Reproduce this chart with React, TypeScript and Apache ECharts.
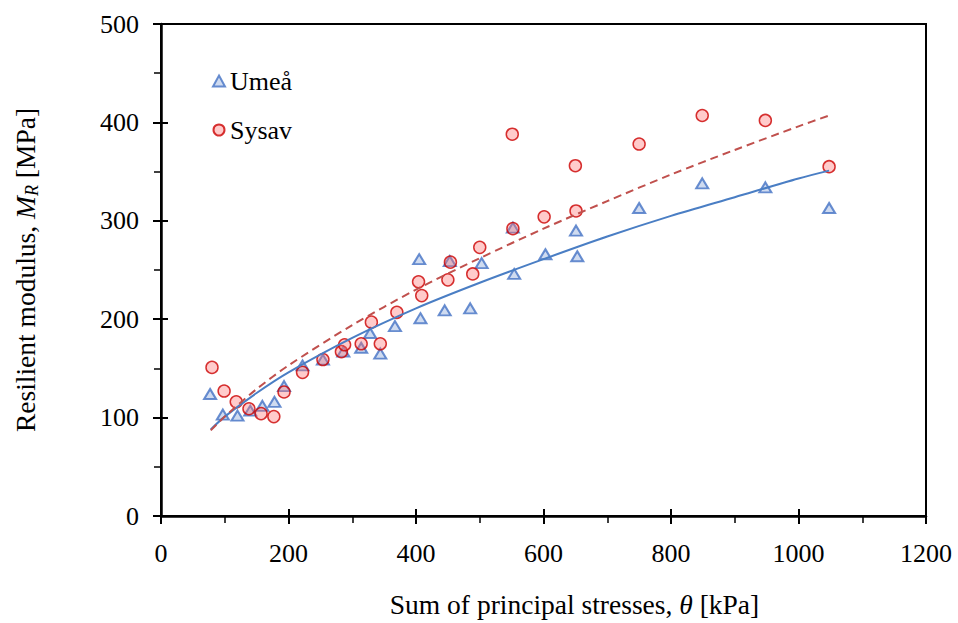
import React, { useEffect, useRef } from "react";
import * as echarts from "echarts";

const umeaTheta = [77, 97, 120, 140, 159, 178, 193, 222, 254, 286, 314, 328, 344, 367, 405, 407, 445, 453, 485, 503, 552, 554, 603, 651, 653, 750, 849, 948, 1048];
const umeaMR = [124, 103, 102, 107, 112, 116, 132, 153, 159, 167, 171, 186, 165, 193, 261, 201, 209, 259, 211, 257, 293, 246, 266, 290, 264, 313, 338, 334, 313];

const sysavTheta = [80, 99, 118, 138, 157, 177, 193, 222, 254, 283, 288, 314, 330, 344, 370, 404, 409, 450, 454, 489, 500, 551, 552, 601, 650, 651, 750, 849, 948, 1048];
const sysavMR = [151, 127, 116, 109, 104, 101, 126, 146, 159, 167, 174, 175, 197, 175, 207, 238, 224, 240, 258, 246, 273, 388, 292, 304, 356, 310, 378, 407, 402, 355];

const trendTheta = [78, 100, 150, 200, 300, 400, 500, 600, 700, 800, 900, 1000, 1048];
const umeaTrend = [88, 101, 125, 146, 181, 211, 237, 261, 284, 305, 324, 343, 351];
const sysavTrend = [87, 101, 129, 153, 194, 230, 262, 292, 320, 347, 372, 396, 407];

const seriesNames = ["Umeå", "Sysav"];

const FONT = "'Liberation Serif', 'Times New Roman', serif";
const TICK_FS = 26;
const TITLE_FS = 27.5;

function zip(xs: number[], ys: number[]) {
  return xs.map((x, i) => [x, ys[i]]);
}

export default function App() {
  const ref = useRef<HTMLDivElement>(null);
  useEffect(() => {
    if (!ref.current) return;
    const chart = echarts.init(ref.current, undefined, { renderer: "svg" });
    const xBase = { type: "value", min: 0, max: 1200, interval: 200, gridIndex: 0 };
    const yBase = { type: "value", min: 0, max: 500, interval: 100, gridIndex: 0 };
    chart.setOption({
      animation: false,
      backgroundColor: "#fff",
      grid: {
        left: 161,
        right: 32,
        top: 24,
        bottom: 107,
        show: true,
        borderColor: "#000",
        borderWidth: 2,
        containLabel: false,
        outerBoundsMode: "none",
      },
      legend: {
        data: [
          { name: seriesNames[0], icon: "triangle" },
          { name: seriesNames[1], icon: "circle" },
        ],
        orient: "vertical",
        left: 207,
        top: 63,
        itemWidth: 12,
        itemHeight: 11,
        itemGap: 23,
        textStyle: { fontFamily: FONT, fontSize: 26, color: "#000" },
      },
      xAxis: [
        {
          ...xBase,
          position: "bottom",
          name: "{a|Sum of principal stresses, }{i|θ}{a| [kPa]}",
          nameLocation: "middle",
          nameGap: 74,
          nameTextStyle: {
            color: "#000",
            padding: [0, 0, 0, 62],
            rich: {
              a: { fontFamily: FONT, fontSize: TITLE_FS, color: "#000" },
              i: { fontFamily: FONT, fontSize: TITLE_FS, fontStyle: "italic", color: "#000" },
            },
          },
          axisLine: { show: true, lineStyle: { color: "#000", width: 2.5 } },
          axisTick: { show: true, inside: false, length: 8, lineStyle: { color: "#000", width: 2 } },
          minorTick: { show: true, splitNumber: 2, length: 7, lineStyle: { color: "#000", width: 1.5 } },
          axisLabel: {
            fontFamily: FONT,
            fontSize: TICK_FS,
            color: "#000",
            margin: 24,
            formatter: (v: number) => String(v),
          },
          splitLine: { show: false },
        },
        {
          ...xBase,
          position: "bottom",
          axisLine: { show: false },
          axisTick: { show: true, inside: true, length: 7, lineStyle: { color: "#000", width: 2 } },
          axisLabel: { show: false },
          splitLine: { show: false },
        },
      ],
      yAxis: [
        {
          ...yBase,
          position: "left",
          name: "{a|Resilient modulus, }{i|M}{s|R}{a| [MPa]}",
          nameLocation: "middle",
          nameGap: 120,
          nameRotate: 90,
          nameTextStyle: {
            color: "#000",
            rich: {
              a: { fontFamily: FONT, fontSize: TITLE_FS, color: "#000", lineHeight: 32 },
              i: { fontFamily: FONT, fontSize: TITLE_FS, fontStyle: "italic", color: "#000", lineHeight: 32 },
              s: { fontFamily: FONT, fontSize: 18, fontStyle: "italic", color: "#000", lineHeight: 21, verticalAlign: "bottom" },
            },
          },
          axisLine: { show: true, lineStyle: { color: "#000", width: 2.5 } },
          axisTick: { show: true, inside: false, length: 8, lineStyle: { color: "#000", width: 2 } },
          minorTick: { show: true, splitNumber: 2, length: 7, lineStyle: { color: "#000", width: 1.5 } },
          axisLabel: { fontFamily: FONT, fontSize: TICK_FS, color: "#000", margin: 22 },
          splitLine: { show: false },
        },
        {
          ...yBase,
          position: "left",
          axisLine: { show: false },
          axisTick: { show: true, inside: true, length: 7, lineStyle: { color: "#000", width: 2 } },
          axisLabel: { show: false },
          splitLine: { show: false },
        },
      ],
      series: [
        {
          name: seriesNames[0],
          type: "scatter",
          xAxisIndex: 0,
          yAxisIndex: 0,
          symbol: "triangle",
          symbolSize: [12, 10],
          data: zip(umeaTheta, umeaMR),
          itemStyle: { color: "rgba(68,114,196,0.32)", borderColor: "#4472C4", borderWidth: 2 },
          z: 2,
        },
        {
          name: seriesNames[1],
          type: "scatter",
          xAxisIndex: 0,
          yAxisIndex: 0,
          symbol: "circle",
          symbolSize: 12,
          data: zip(sysavTheta, sysavMR),
          itemStyle: { color: "rgba(255,110,110,0.45)", borderColor: "#CC0000", borderWidth: 1.5 },
          z: 3,
        },
        {
          name: "Umeå trend",
          type: "line",
          xAxisIndex: 0,
          yAxisIndex: 0,
          data: zip(trendTheta, umeaTrend),
          showSymbol: false,
          symbol: "none",
          smooth: 0.3,
          lineStyle: { color: "#4A7EC4", width: 2, type: "solid" },
          z: 4,
          silent: true,
        },
        {
          name: "Sysav trend",
          type: "line",
          xAxisIndex: 0,
          yAxisIndex: 0,
          data: zip(trendTheta, sysavTrend),
          showSymbol: false,
          symbol: "none",
          smooth: 0.3,
          lineStyle: { color: "#C0504D", width: 2, type: [8, 5] },
          z: 4,
          silent: true,
        },
      ],
    });
    return () => chart.dispose();
  }, []);
  return (
    <div
      ref={ref}
      style={{ position: "fixed", left: 0, top: 0, width: 958, height: 623, background: "#fff" }}
    />
  );
}
